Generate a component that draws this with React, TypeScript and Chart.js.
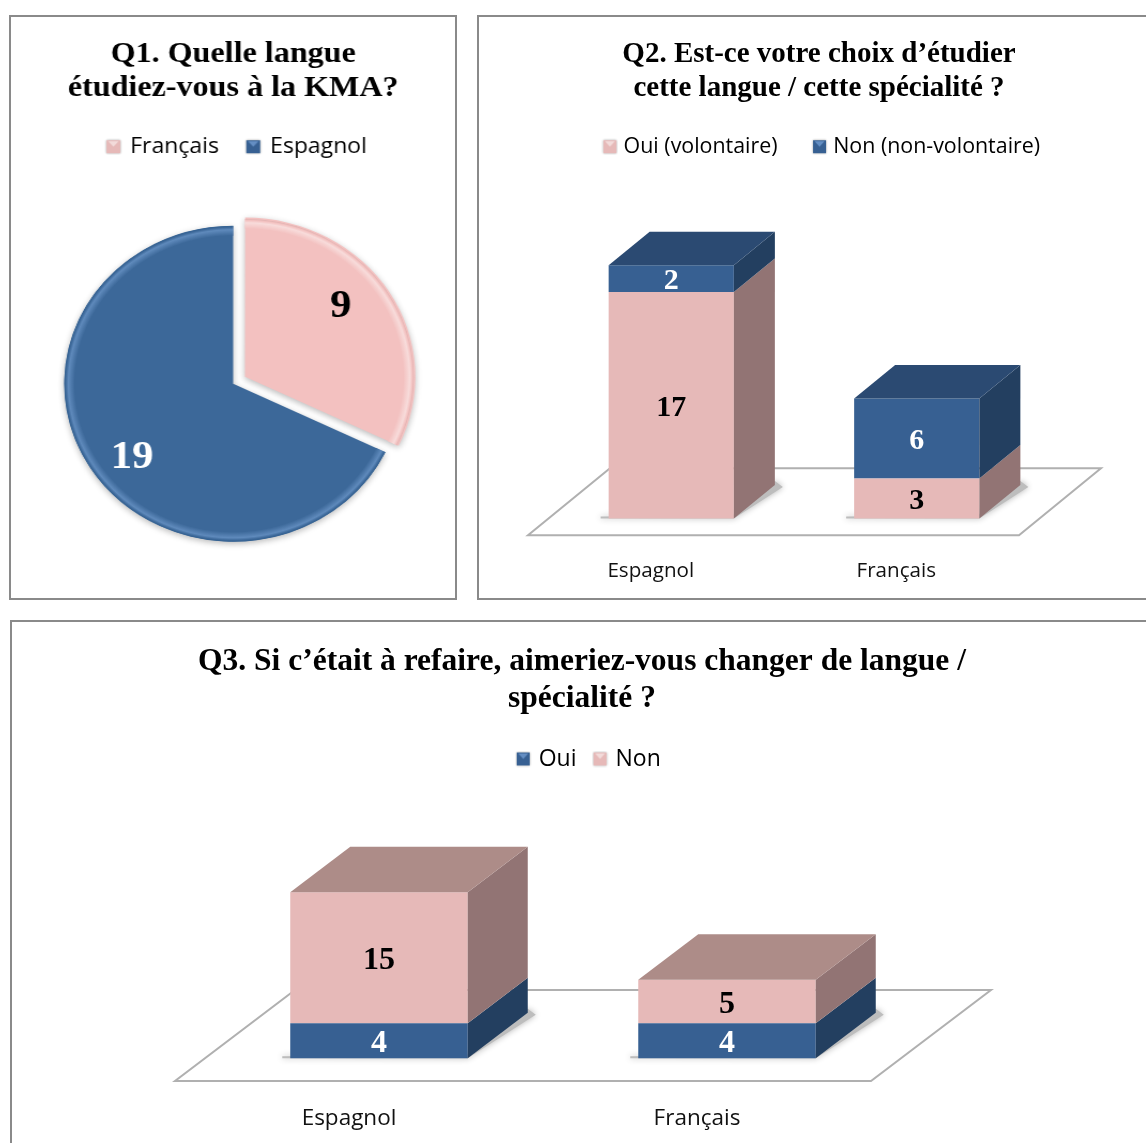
import React, { useEffect, useRef } from "react";
import { Chart, registerables } from "chart.js";

Chart.register(...registerables);

const q1Labels = ["Français", "Espagnol"];
const q1Values = [9, 19];

const q2Categories = ["Espagnol", "Français"];
const q2Oui = [17, 3];
const q2Non = [2, 6];

const q3Categories = ["Espagnol", "Français"];
const q3Oui = [4, 4];
const q3Non = [15, 5];

const SERIF = "'Liberation Serif', 'Times New Roman', serif";
const SANS = "'Open Sans', 'Noto Sans', sans-serif";

const PINK = { front: "#e6b9b8", side: "#927474", top: "#ad8c88", pie: "#f3c1c0", l: "#f8dcdb", d: "#ddb0af", sw: "#f5e3e2" };
const BLUE = { front: "#376092", side: "#233f60", top: "#2b4a72", pie: "#3c6899", l: "#5f8abc", d: "#33608f", sw: "#6f9ad0" };

function swatch(c: typeof PINK) {
  const s = document.createElement("canvas");
  s.width = 17;
  s.height = 17;
  const g = s.getContext("2d")!;
  g.shadowColor = "rgba(0,0,0,0.4)";
  g.shadowBlur = 2;
  g.fillStyle = c.front;
  g.fillRect(2, 2, 13, 13);
  g.shadowBlur = 0;
  g.fillStyle = c.sw;
  g.globalAlpha = 0.8;
  g.beginPath();
  g.moveTo(3.5, 3);
  g.lineTo(13.5, 3);
  g.lineTo(8.5, 8.5);
  g.closePath();
  g.fill();
  return s;
}

const legendOpts = (items: { text: string; c: typeof PINK }[], padding: number, size: number, box: number) => ({
  position: "top" as const,
  labels: {
    usePointStyle: true,
    boxWidth: box,
    boxHeight: box,
    padding,
    color: "#111",
    font: { family: SANS, size },
    generateLabels: () =>
      items.map((it, i) => ({
        text: it.text,
        pointStyle: swatch(it.c),
        fillStyle: it.c.front,
        strokeStyle: it.c.front,
        lineWidth: 0,
        hidden: false,
        datasetIndex: i,
        index: i,
      })),
  },
});

const legendNudge = {
  id: "legendNudge",
  afterLayout(chart: any, _a: any, o: any) {
    if (chart.legend) {
      chart.legend.left += o.dx;
      chart.legend.right += o.dx;
    }
  },
};

const pieLook = {
  id: "pieLook",
  beforeDatasetsDraw(chart: any) {
    chart.ctx.save();
    chart.ctx.shadowColor = "rgba(0,0,0,0.28)";
    chart.ctx.shadowBlur = 6;
    chart.ctx.shadowOffsetY = 2;
  },
  afterDatasetsDraw(chart: any, _a: any, o: any) {
    const ctx = chart.ctx;
    ctx.restore();
    const arcs = chart.getDatasetMeta(0).data;
    const looks = [PINK, BLUE];
    arcs.forEach((a: any, i: number) => {
      const mid = (a.startAngle + a.endAngle) / 2;
      const off = (a.options.offset || 0) / 4;
      const cx = a.x + Math.cos(mid) * off;
      const cy = a.y + Math.sin(mid) * off;
      const R = a.outerRadius;
      ctx.save();
      ctx.beginPath();
      ctx.moveTo(cx, cy);
      ctx.arc(cx, cy, R, a.startAngle, a.endAngle);
      ctx.closePath();
      ctx.clip();
      const g = ctx.createRadialGradient(cx, cy, R - 10, cx, cy, R);
      g.addColorStop(0, looks[i].pie);
      g.addColorStop(0.6, looks[i].l);
      g.addColorStop(0.85, looks[i].pie);
      g.addColorStop(1, looks[i].d);
      ctx.fillStyle = g;
      ctx.beginPath();
      ctx.arc(cx, cy, R, 0, Math.PI * 2);
      ctx.arc(cx, cy, R - 10, 0, Math.PI * 2, true);
      ctx.fill();
      ctx.restore();
      const v = chart.data.datasets[0].data[i];
      const r = R * o.labelRadius[i];
      const t = mid + o.labelTurn;
      ctx.save();
      ctx.font = `bold 40px ${SERIF}`;
      ctx.fillStyle = i === 0 ? "#000" : "#fff";
      ctx.textAlign = "center";
      ctx.textBaseline = "middle";
      ctx.fillText(String(v), cx + Math.cos(t) * r, cy + Math.sin(t) * r);
      ctx.restore();
    });
  },
};

const box3d = {
  id: "box3d",
  beforeDatasetsDraw(chart: any, _a: any, o: any) {
    const ctx = chart.ctx;
    const { left, right, bottom } = chart.chartArea;
    const dx = o.dx;
    const dy = o.dy;
    ctx.save();
    ctx.beginPath();
    ctx.moveTo(left, bottom);
    ctx.lineTo(right, bottom);
    ctx.lineTo(right + dx, bottom - dy);
    ctx.lineTo(left + dx, bottom - dy);
    ctx.closePath();
    ctx.fillStyle = "#fff";
    ctx.fill();
    ctx.strokeStyle = "#b0b0b0";
    ctx.lineWidth = 2;
    ctx.stroke();
    ctx.restore();

    ctx.save();
    ctx.translate(dx / 4, -dy / 4);
    const meta = chart.getDatasetMeta(0).data;
    meta.forEach((el: any) => {
      const l = el.x - el.width / 2;
      const r = el.x + el.width / 2;
      ctx.save();
      ctx.shadowColor = "rgba(0,0,0,0.3)";
      ctx.shadowBlur = 6;
      ctx.fillStyle = "#bdbdbd";
      ctx.beginPath();
      ctx.moveTo(l - 8, el.base);
      ctx.lineTo(r, el.base);
      ctx.lineTo(r + dx / 2 + 8, el.base - dy / 2 + 2);
      ctx.lineTo(r + dx / 2, el.base - dy / 2 - 4);
      ctx.lineTo(r, el.base - 4);
      ctx.lineTo(l - 8, el.base - 2);
      ctx.closePath();
      ctx.fill();
      ctx.restore();
    });
  },
  afterDatasetsDraw(chart: any, _a: any, o: any) {
    const ctx = chart.ctx;
    const dx = o.dx / 2;
    const dy = o.dy / 2;
    const n = chart.data.datasets.length;
    chart.data.datasets.forEach((ds: any, di: number) => {
      const look = ds.look;
      chart.getDatasetMeta(di).data.forEach((el: any, i: number) => {
        const r = el.x + el.width / 2;
        const l = el.x - el.width / 2;
        ctx.fillStyle = look.side;
        ctx.beginPath();
        ctx.moveTo(r, el.base);
        ctx.lineTo(r + dx, el.base - dy);
        ctx.lineTo(r + dx, el.y - dy);
        ctx.lineTo(r, el.y);
        ctx.closePath();
        ctx.fill();
        if (di === n - 1) {
          ctx.fillStyle = look.top;
          ctx.beginPath();
          ctx.moveTo(l, el.y);
          ctx.lineTo(r, el.y);
          ctx.lineTo(r + dx, el.y - dy);
          ctx.lineTo(l + dx, el.y - dy);
          ctx.closePath();
          ctx.fill();
        }
        ctx.save();
        ctx.font = `bold ${o.size}px ${SERIF}`;
        ctx.textAlign = "center";
        ctx.textBaseline = "middle";
        ctx.fillStyle = ds.labelColor;
        ctx.fillText(String(ds.data[i]), el.x, (el.y + el.base) / 2 + 3);
        ctx.restore();
      });
    });
    ctx.restore();
  },
};

type BarCfg = {
  categories: string[];
  datasets: { label: string; data: number[]; look: typeof PINK; labelColor: string }[];
  legend: { text: string; c: typeof PINK }[];
  legendPadding: number;
  legendSize: number;
  legendBox: number;
  legendShift: number;
  title: string[];
  titleSize: number;
  titleLine: number;
  titleTop: number;
  titleBottom: number;
  yMax: number;
  leftGutter: number;
  rightGutter: number;
  floor: { dx: number; dy: number };
  tickPad: number;
  tickSize: number;
  bottomPad: number;
  labelSize: number;
};

function barConfig(c: BarCfg) {
  return {
    type: "bar" as const,
    data: {
      labels: c.categories,
      datasets: c.datasets.map((d) => ({
        label: d.label,
        data: d.data,
        look: d.look,
        labelColor: d.labelColor,
        backgroundColor: d.look.front,
        borderWidth: 0,
        stack: "s",
        clip: false,
      })),
    },
    options: {
      animation: false,
      responsive: false,
      layout: { padding: { bottom: c.bottomPad } },
      datasets: { bar: { categoryPercentage: 1, barPercentage: 0.51 } },
      scales: {
        x: {
          stacked: true,
          grid: { display: false, drawTicks: false },
          border: { display: false },
          ticks: { color: "#111", padding: c.tickPad, maxRotation: 0, font: { family: SANS, size: c.tickSize } },
        },
        y: {
          stacked: true,
          min: 0,
          max: c.yMax,
          afterFit: (s: any) => {
            s.width = c.leftGutter;
          },
          grid: { display: false },
          border: { display: false },
          ticks: { display: false },
        },
        yr: {
          position: "right",
          afterFit: (s: any) => {
            s.width = c.rightGutter;
          },
          grid: { display: false },
          border: { display: false },
          ticks: { display: false },
        },
      },
      plugins: {
        title: {
          display: true,
          text: c.title,
          color: "#000",
          font: { family: SERIF, size: c.titleSize, weight: "bold", lineHeight: c.titleLine },
          padding: { top: c.titleTop, bottom: c.titleBottom },
        },
        legend: legendOpts(c.legend, c.legendPadding, c.legendSize, c.legendBox),
        tooltip: { enabled: false },
        box3d: { dx: c.floor.dx, dy: c.floor.dy, size: c.labelSize },
        legendNudge: { dx: c.legendShift },
      },
    },
    plugins: [box3d, legendNudge],
  };
}

const q1Config = {
  type: "pie" as const,
  data: {
    labels: q1Labels,
    datasets: [
      {
        data: q1Values,
        backgroundColor: [PINK.pie, BLUE.pie],
        borderWidth: 0,
        offset: [52, 0],
        hoverOffset: 0,
      },
    ],
  },
  options: {
    animation: false,
    responsive: false,
    layout: { padding: { left: 25.5, right: 25.5, bottom: -0.5 } },
    plugins: {
      title: {
        display: true,
        text: ["Q1. Quelle langue", "étudiez-vous à la KMA?"],
        color: "#000",
        font: { family: SERIF, size: 30, weight: "bold", lineHeight: 34 / 30 },
        padding: { top: 22, bottom: 4 },
      },
      legend: legendOpts(
        [
          { text: q1Labels[0], c: PINK },
          { text: q1Labels[1], c: BLUE },
        ],
        27,
        21.5,
        10
      ),
      tooltip: { enabled: false },
      legendNudge: { dx: 4 },
      pieLook: { labelRadius: [0.72, 0.76], labelTurn: -0.105 },
    },
  },
  plugins: [pieLook, legendNudge],
};

const q2Config = barConfig({
  categories: q2Categories,
  datasets: [
    { label: "Oui (volontaire)", data: q2Oui, look: PINK, labelColor: "#000" },
    { label: "Non (non-volontaire)", data: q2Non, look: BLUE, labelColor: "#fff" },
  ],
  legend: [
    { text: "Oui (volontaire)", c: PINK },
    { text: "Non (non-volontaire)", c: BLUE },
  ],
  legendPadding: 39,
  legendSize: 21.4,
  legendBox: 6,
  legendShift: 4.5,
  title: ["Q2. Est-ce votre choix d’étudier", "cette langue / cette spécialité ?"],
  titleSize: 29,
  titleLine: 34 / 29,
  titleTop: 23,
  titleBottom: -9,
  yMax: 27.6,
  leftGutter: 51,
  rightGutter: 142,
  floor: { dx: 82, dy: 67 },
  tickPad: 23,
  tickSize: 20.6,
  bottomPad: -6,
  labelSize: 30,
});

const q3Config = barConfig({
  categories: q3Categories,
  datasets: [
    { label: "Oui", data: q3Oui, look: BLUE, labelColor: "#fff" },
    { label: "Non", data: q3Non, look: PINK, labelColor: "#000" },
  ],
  legend: [
    { text: "Oui", c: BLUE },
    { text: "Non", c: PINK },
  ],
  legendPadding: 19.5,
  legendSize: 23,
  legendBox: 8,
  legendShift: 8,
  title: ["Q3. Si c’était à refaire, aimeriez-vous changer de langue /", "spécialité ?"],
  titleSize: 31.5,
  titleLine: 37 / 31.5,
  titleTop: 23,
  titleBottom: 11,
  yMax: 34.4,
  leftGutter: 165,
  rightGutter: 283,
  floor: { dx: 120, dy: 91 },
  tickPad: 24,
  tickSize: 22.5,
  bottomPad: -6,
  labelSize: 32,
});

function Panel({ config, left, top, width, height, stretch = 1 }: any) {
  const ref = useRef<HTMLCanvasElement | null>(null);
  useEffect(() => {
    const chart = new Chart(ref.current!, config);
    return () => chart.destroy();
  }, [config]);
  return (
    <div
      style={{
        position: "absolute",
        left,
        top,
        width,
        height,
        boxSizing: "border-box",
        border: "2px solid #8a8a8a",
        background: "#fff",
      }}
    >
      <canvas
        ref={ref}
        width={Math.round(width / stretch)}
        height={height}
        style={{
          position: "absolute",
          left: -2,
          top: -2,
          transform: `scaleX(${stretch})`,
          transformOrigin: "0 0",
        }}
      />
    </div>
  );
}

export default function App() {
  return (
    <div style={{ position: "fixed", inset: 0, overflow: "hidden", background: "#fff" }}>
      <Panel config={q1Config} left={9} top={15} width={448} height={585} stretch={1.07} />
      <Panel config={q2Config} left={477} top={15} width={684} height={585} />
      <Panel config={q3Config} left={10} top={620} width={1144} height={530} />
    </div>
  );
}
